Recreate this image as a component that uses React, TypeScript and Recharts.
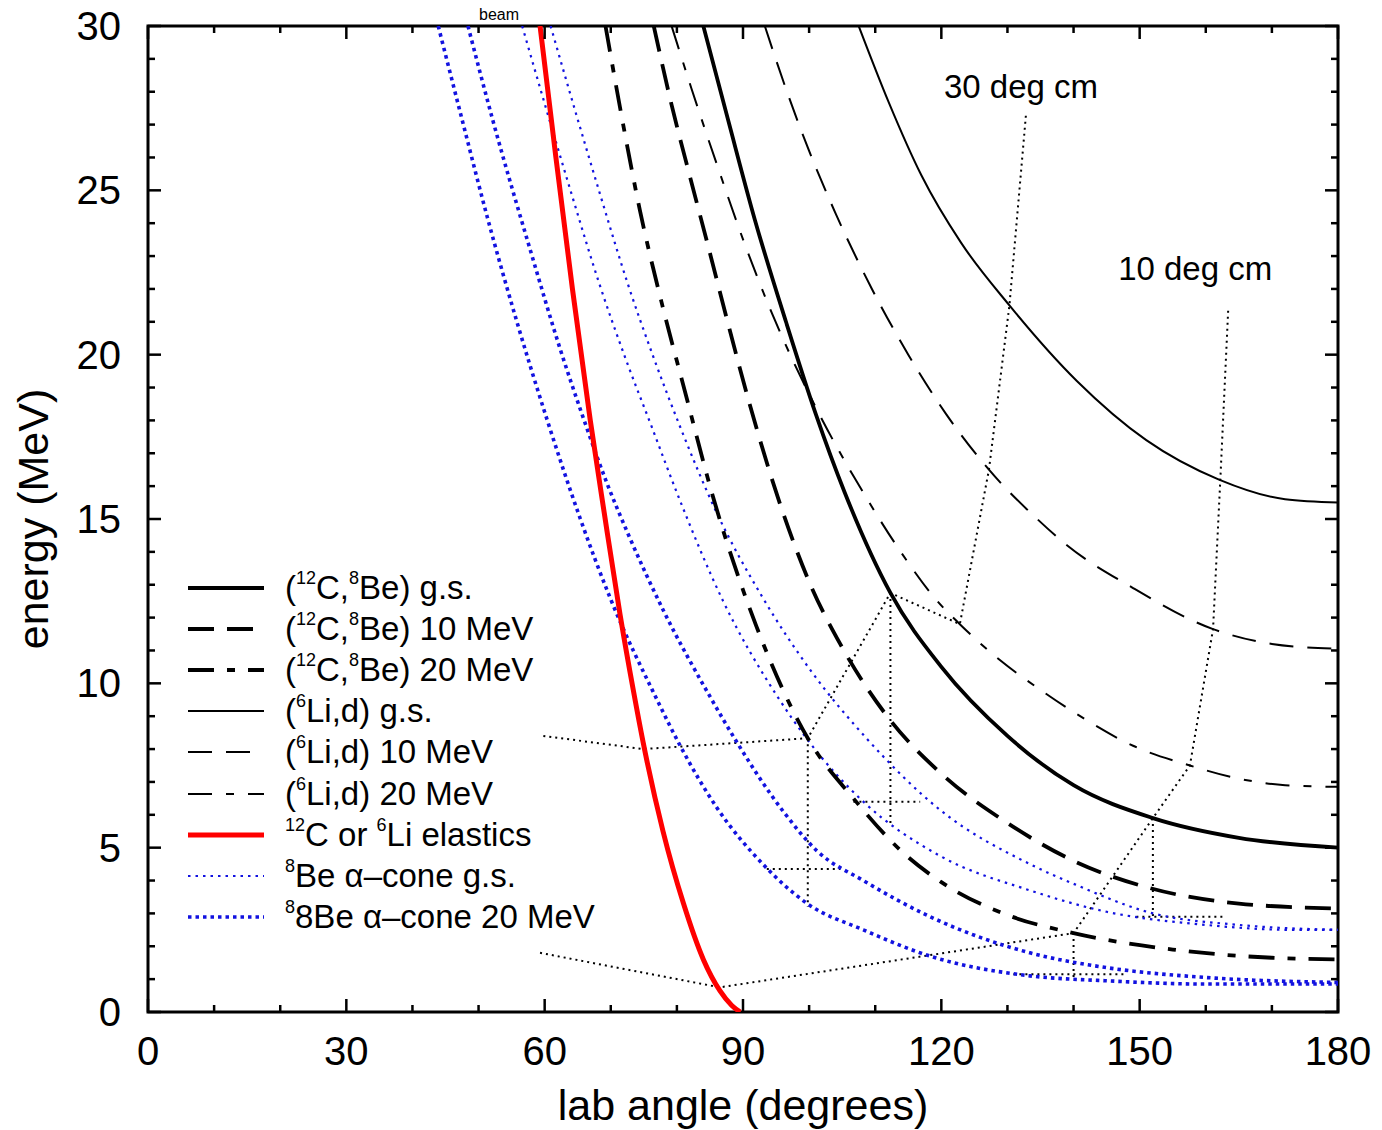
import { LineChart, Line, XAxis, YAxis, Legend, ReferenceArea, ReferenceDot } from "recharts";

type Pt = [number, number];

// [lab angle (deg), energy (MeV)]
const c12Gs: Pt[] = [[84, 30], [87.8, 27.1], [91.8, 24.1], [96.5, 21.0], [101, 18.2], [105.4, 15.8], [112.3, 12.75], [120, 10.5], [130, 8.4], [140, 6.9], [152, 5.9], [165, 5.3], [180, 5.0]];
const c12Ex10: Pt[] = [[76.5, 30], [79.2, 27.6], [82, 25.4], [84.6, 23.4], [87.8, 20.9], [91, 18.5], [95.7, 15.4], [100.2, 13.0], [104.7, 11.2], [111.8, 9.0], [120, 7.25], [130, 5.75], [140, 4.6], [151, 3.8], [165, 3.3], [180, 3.15]];
const c12Ex20: Pt[] = [[69.2, 30], [71.6, 27.3], [74.4, 24.4], [77.8, 21.5], [81, 19.05], [85.5, 15.65], [92, 11.75], [99.8, 8.33], [106.7, 6.5], [114.2, 4.85], [120, 3.95], [130, 2.95], [140, 2.4], [155, 1.9], [170, 1.65], [180, 1.6]];
const li6Gs: Pt[] = [[107.5, 30], [112, 27.7], [117, 25.45], [123, 23.4], [130.3, 21.5], [140.5, 19.2], [151, 17.4], [162, 16.2], [172, 15.6], [180, 15.5]];
const li6Ex10: Pt[] = [[93.3, 30], [96.3, 28.2], [100, 26.2], [104, 24.3], [109.5, 22.0], [115, 20.0], [120.7, 18.2], [127.2, 16.5], [134.5, 15.0], [139, 14.2], [149, 12.9], [161.1, 11.65], [170, 11.2], [180, 11.05]];
const li6Ex20: Pt[] = [[79.2, 30], [82.2, 28.1], [86.2, 25.7], [90.2, 23.4], [94.5, 21.2], [101, 18.4], [108.8, 15.6], [114.2, 13.9], [119.4, 12.5], [122.8, 11.8], [128.9, 10.7], [135, 9.8], [141, 9.0], [149, 8.1], [157.6, 7.5], [165, 7.1], [172, 6.9], [180, 6.85]];
const elastic: Pt[] = [[59.3, 30], [61.7, 26], [64.2, 22], [66.9, 18], [69, 15.2], [71.4, 12.1], [73.4, 9.8], [74.9, 8.2], [77.9, 5.5], [81, 3.3], [84, 1.6], [86.5, 0.65], [88.3, 0.2], [89.6, 0]];

// 8Be alpha cones, two branches each
const alphaGsLow: Pt[] = [[56.6, 30], [60.2, 27.5], [64.2, 24.8], [68.2, 22.2], [72.2, 19.9], [76.2, 17.8], [80, 15.8], [87, 12.5], [95.2, 9.6], [99.7, 8.3], [108.2, 6.4], [119.8, 4.75], [133.4, 3.7], [145, 3.05], [160, 2.65], [172.8, 2.5], [180, 2.5]];
const alphaGsHigh: Pt[] = [[60.9, 30], [64.5, 27.5], [68.5, 24.8], [72.5, 22.2], [76.5, 19.9], [80.5, 17.8], [86, 15.2], [93, 12.6], [100.2, 10.4], [108.8, 8.3], [119.8, 6.15], [133.4, 4.5], [140, 3.9], [152, 3.0], [165, 2.65], [180, 2.5]];
const alpha20Low: Pt[] = [[43.9, 30], [47.7, 27.0], [51.3, 24.2], [55.8, 21.0], [60.4, 18.0], [65.4, 15.0], [69.9, 12.6], [77, 9.5], [80.5, 8.1], [86.1, 6.2], [93, 4.5], [99.7, 3.3], [108.2, 2.5], [118.3, 1.7], [133.4, 1.1], [145, 0.95], [160, 0.85], [180, 0.85]];
const alpha20High: Pt[] = [[48.4, 30], [52.2, 27.1], [57.8, 23.2], [62.3, 20.2], [65.8, 18.1], [69.4, 16.1], [72.5, 14.6], [78, 12.2], [85, 9.6], [89.1, 8.2], [96.1, 6.1], [101.2, 4.9], [108.2, 4.0], [118.3, 2.9], [133.4, 1.8], [145, 1.35], [160, 1.05], [180, 0.9]];

// constant cm-angle guides
const cm30: Pt[] = [[59.8, 8.4], [74.9, 8.0], [99.8, 8.33], [112.3, 12.75], [122.8, 11.8], [127.2, 16.5], [130.3, 21.5], [132.8, 27.3]];
const cm10: Pt[] = [[59.3, 1.8], [86.5, 0.75], [140, 2.4], [152, 5.9], [157.6, 7.5], [161.1, 11.65], [162.2, 16.2], [163.4, 21.4]];
const coneGuides: Pt[][] = [
  [[99.8, 8.33], [99.8, 3.2]],
  [[93.6, 4.35], [104.7, 4.35]],
  [[112.3, 12.75], [112.3, 5.7]],
  [[106.7, 6.4], [116.8, 6.4]],
  [[140, 2.4], [140, 1.0]],
  [[130.9, 1.15], [148, 1.15]],
  [[152, 5.9], [152, 2.85]],
  [[149.5, 2.9], [163, 2.9]],
];

const xTicks = [0, 10, 20, 30, 40, 50, 60, 70, 80, 90, 100, 110, 120, 130, 140, 150, 160, 170, 180];
const xMajor = [0, 30, 60, 90, 120, 150, 180];
const yTicks = [0, 1, 2, 3, 4, 5, 6, 7, 8, 9, 10, 11, 12, 13, 14, 15, 16, 17, 18, 19, 20, 21, 22, 23, 24, 25, 26, 27, 28, 29, 30];
const yMajor = [0, 5, 10, 15, 20, 25, 30];

const legendLabels = [
  "(^{12}C,^{8}Be) g.s.",
  "(^{12}C,^{8}Be) 10 MeV",
  "(^{12}C,^{8}Be) 20 MeV",
  "(^{6}Li,d) g.s.",
  "(^{6}Li,d) 10 MeV",
  "(^{6}Li,d) 20 MeV",
  "^{12}C or ^{6}Li elastics",
  "^{8}Be α–cone g.s.",
  "^{8}8Be α–cone 20 MeV",
];
const notes = [
  { text: "30 deg cm", x: 132.05, y: 28.17 },
  { text: "10 deg cm", x: 158.4, y: 22.63 },
];

const FONT = '"Liberation Sans", Arial, Helvetica, sans-serif';
const BLUE = "#1212e0";

const st: Record<string, any> = {
  c12gs: { stroke: "#000", strokeWidth: 3.8 },
  c12ex10: { stroke: "#000", strokeWidth: 3.8, strokeDasharray: "26 13" },
  c12ex20: { stroke: "#000", strokeWidth: 3.8, strokeDasharray: "26 13 8 13" },
  li6gs: { stroke: "#000", strokeWidth: 2 },
  li6ex10: { stroke: "#000", strokeWidth: 2, strokeDasharray: "24 14" },
  li6ex20: { stroke: "#000", strokeWidth: 2, strokeDasharray: "24 14 8 14" },
  elastic: { stroke: "#ff0000", strokeWidth: 5 },
  alphaGs: { stroke: BLUE, strokeWidth: 2.2, strokeDasharray: "2.5 5" },
  alpha20: { stroke: BLUE, strokeWidth: 3.6, strokeDasharray: "3.5 4" },
  cm: { stroke: "#000", strokeWidth: 2, strokeDasharray: "2 4" },
};
const legendKeys = ["c12gs", "c12ex10", "c12ex20", "li6gs", "li6ex10", "li6ex20", "elastic", "alphaGs", "alpha20"];

const toRows = (pts: Pt[]) => pts.map(([x, y]) => ({ x, y }));

// "^{12}C" -> superscript 12 followed by C
const rich = (s: string) =>
  s.split(/(\^\{[^}]*\})/).map((part, i) =>
    part.startsWith("^{") ? (
      <span key={i} style={{ fontSize: 18, position: "relative", top: -15 }}>
        {part.slice(2, -1)}
      </span>
    ) : (
      <span key={i}>{part}</span>
    )
  );

const LegendBox = () => (
  <div style={{ fontFamily: FONT, fontSize: 33, color: "#000" }}>
    {legendKeys.map((k, i) => (
      <div key={k} style={{ display: "flex", alignItems: "center", height: 41.2, whiteSpace: "nowrap" }}>
        <svg width={80} height={20} style={{ flex: "none" }}>
          <line x1={2} x2={78} y1={10} y2={10} {...st[k]} />
        </svg>
        <span style={{ marginLeft: 19 }}>{rich(legendLabels[i])}</span>
      </div>
    ))}
  </div>
);

const BottomTick = (p: any) => {
  const { x, y, payload } = p;
  const major = xMajor.includes(payload.value);
  return (
    <g>
      <line x1={x} x2={x} y1={y} y2={y - (major ? 13 : 7)} stroke="#000" strokeWidth={2.5} />
      {major && (
        <text x={x} y={y + 53} textAnchor="middle" fontSize={40} fontFamily={FONT} fill="#000">
          {payload.value}
        </text>
      )}
    </g>
  );
};

const TopTick = (p: any) => {
  const { x, y, payload } = p;
  const major = xMajor.includes(payload.value);
  return <line x1={x} x2={x} y1={y} y2={y + (major ? 13 : 7)} stroke="#000" strokeWidth={2.5} />;
};

const LeftTick = (p: any) => {
  const { x, y, payload } = p;
  const major = yMajor.includes(payload.value);
  return (
    <g>
      <line x1={x} x2={x + (major ? 13 : 7)} y1={y} y2={y} stroke="#000" strokeWidth={2.5} />
      {major && (
        <text x={x - 27} y={y + 14} textAnchor="end" fontSize={40} fontFamily={FONT} fill="#000">
          {payload.value}
        </text>
      )}
    </g>
  );
};

const RightTick = (p: any) => {
  const { x, y, payload } = p;
  const major = yMajor.includes(payload.value);
  return <line x1={x} x2={x - (major ? 13 : 7)} y1={y} y2={y} stroke="#000" strokeWidth={2.5} />;
};

const YTitle = (props: any) => {
  const vb = props.viewBox || { x: 0, y: 26, width: 148, height: 986 };
  const cx = vb.x + 33;
  const cy = vb.y + vb.height / 2;
  return (
    <text x={cx} y={cy} transform={`rotate(-90 ${cx} ${cy})`} textAnchor="middle" dominantBaseline="central" fontSize={43} fontFamily={FONT} fill="#000">
      energy (MeV)
    </text>
  );
};

// bottom of the cut-off title (subscript "beam") above the frame
const BeamText = (props: any) => {
  const vb = props.viewBox || { x: 148, y: 0, width: 1190, height: 26 };
  return (
    <text x={vb.x + 351} y={vb.y + 20} textAnchor="middle" fontSize={16} fontFamily={FONT} fill="#000">
      beam
    </text>
  );
};

const curve = (key: string, pts: Pt[], style: any) => (
  <Line
    key={key}
    data={toRows(pts)}
    dataKey="y"
    type="monotone"
    dot={false}
    activeDot={false}
    legendType="none"
    isAnimationActive={false}
    {...style}
  />
);

const guide = (key: string, pts: Pt[]) => (
  <Line
    key={key}
    data={toRows(pts)}
    dataKey="y"
    type="linear"
    dot={false}
    activeDot={false}
    legendType="none"
    isAnimationActive={false}
    {...st.cm}
  />
);

const App = () => {
  return (
    <div style={{ position: "absolute", left: 0, top: 0, width: 1382, height: 1130, background: "#fff", fontFamily: FONT }}>
      <LineChart width={1382} height={1130} margin={{ top: 0, right: 0, bottom: 0, left: 0 }} style={{ fontFamily: FONT }}>
        <XAxis
          type="number"
          dataKey="x"
          domain={[0, 180]}
          ticks={xTicks}
          interval={0}
          height={118}
          allowDataOverflow
          axisLine={false}
          tickLine={false}
          tickSize={0}
          tickMargin={0}
          tick={BottomTick}
          label={{ value: "lab angle (degrees)", position: "insideBottom", offset: 10, fontSize: 43, fill: "#000", fontFamily: FONT }}
        />
        <XAxis
          xAxisId="top"
          orientation="top"
          type="number"
          dataKey="x"
          domain={[0, 180]}
          ticks={xTicks}
          interval={0}
          height={26}
          allowDataOverflow
          axisLine={false}
          tickLine={false}
          tickSize={0}
          tickMargin={0}
          tick={TopTick}
          label={{ content: BeamText }}
        />
        <YAxis
          type="number"
          domain={[0, 30]}
          ticks={yTicks}
          interval={0}
          width={148}
          allowDataOverflow
          axisLine={false}
          tickLine={false}
          tickSize={0}
          tickMargin={0}
          tick={LeftTick}
          label={{ content: YTitle }}
        />
        <YAxis
          yAxisId="right"
          orientation="right"
          type="number"
          domain={[0, 30]}
          ticks={yTicks}
          interval={0}
          width={44}
          allowDataOverflow
          axisLine={false}
          tickLine={false}
          tickSize={0}
          tickMargin={0}
          tick={RightTick}
        />
        <ReferenceArea x1={0} x2={180} y1={0} y2={30} fill="none" fillOpacity={0} stroke="#000" strokeWidth={3} ifOverflow="visible" />

        {guide("cm30", cm30)}
        {guide("cm10", cm10)}
        {coneGuides.map((g, i) => guide(`cone${i}`, g))}

        {curve("a20lo", alpha20Low, st.alpha20)}
        {curve("a20hi", alpha20High, st.alpha20)}
        {curve("agslo", alphaGsLow, st.alphaGs)}
        {curve("agshi", alphaGsHigh, st.alphaGs)}

        {curve("li6gs", li6Gs, st.li6gs)}
        {curve("li6ex10", li6Ex10, st.li6ex10)}
        {curve("li6ex20", li6Ex20, st.li6ex20)}
        {curve("c12gs", c12Gs, st.c12gs)}
        {curve("c12ex10", c12Ex10, st.c12ex10)}
        {curve("c12ex20", c12Ex20, st.c12ex20)}
        {curve("elastic", elastic, st.elastic)}

        {notes.map((n) => (
          <ReferenceDot
            key={n.text}
            x={n.x}
            y={n.y}
            r={0}
            fill="none"
            stroke="none"
            ifOverflow="visible"
            label={{ value: n.text, position: "center", fontSize: 33, fill: "#000", fontFamily: FONT }}
          />
        ))}

        <Legend
          layout="vertical"
          align="center"
          verticalAlign="middle"
          wrapperStyle={{ left: 186, top: 567, right: "auto", bottom: "auto", width: "auto", height: "auto" }}
          content={() => <LegendBox />}
        />
      </LineChart>
    </div>
  );
};

export default App;
